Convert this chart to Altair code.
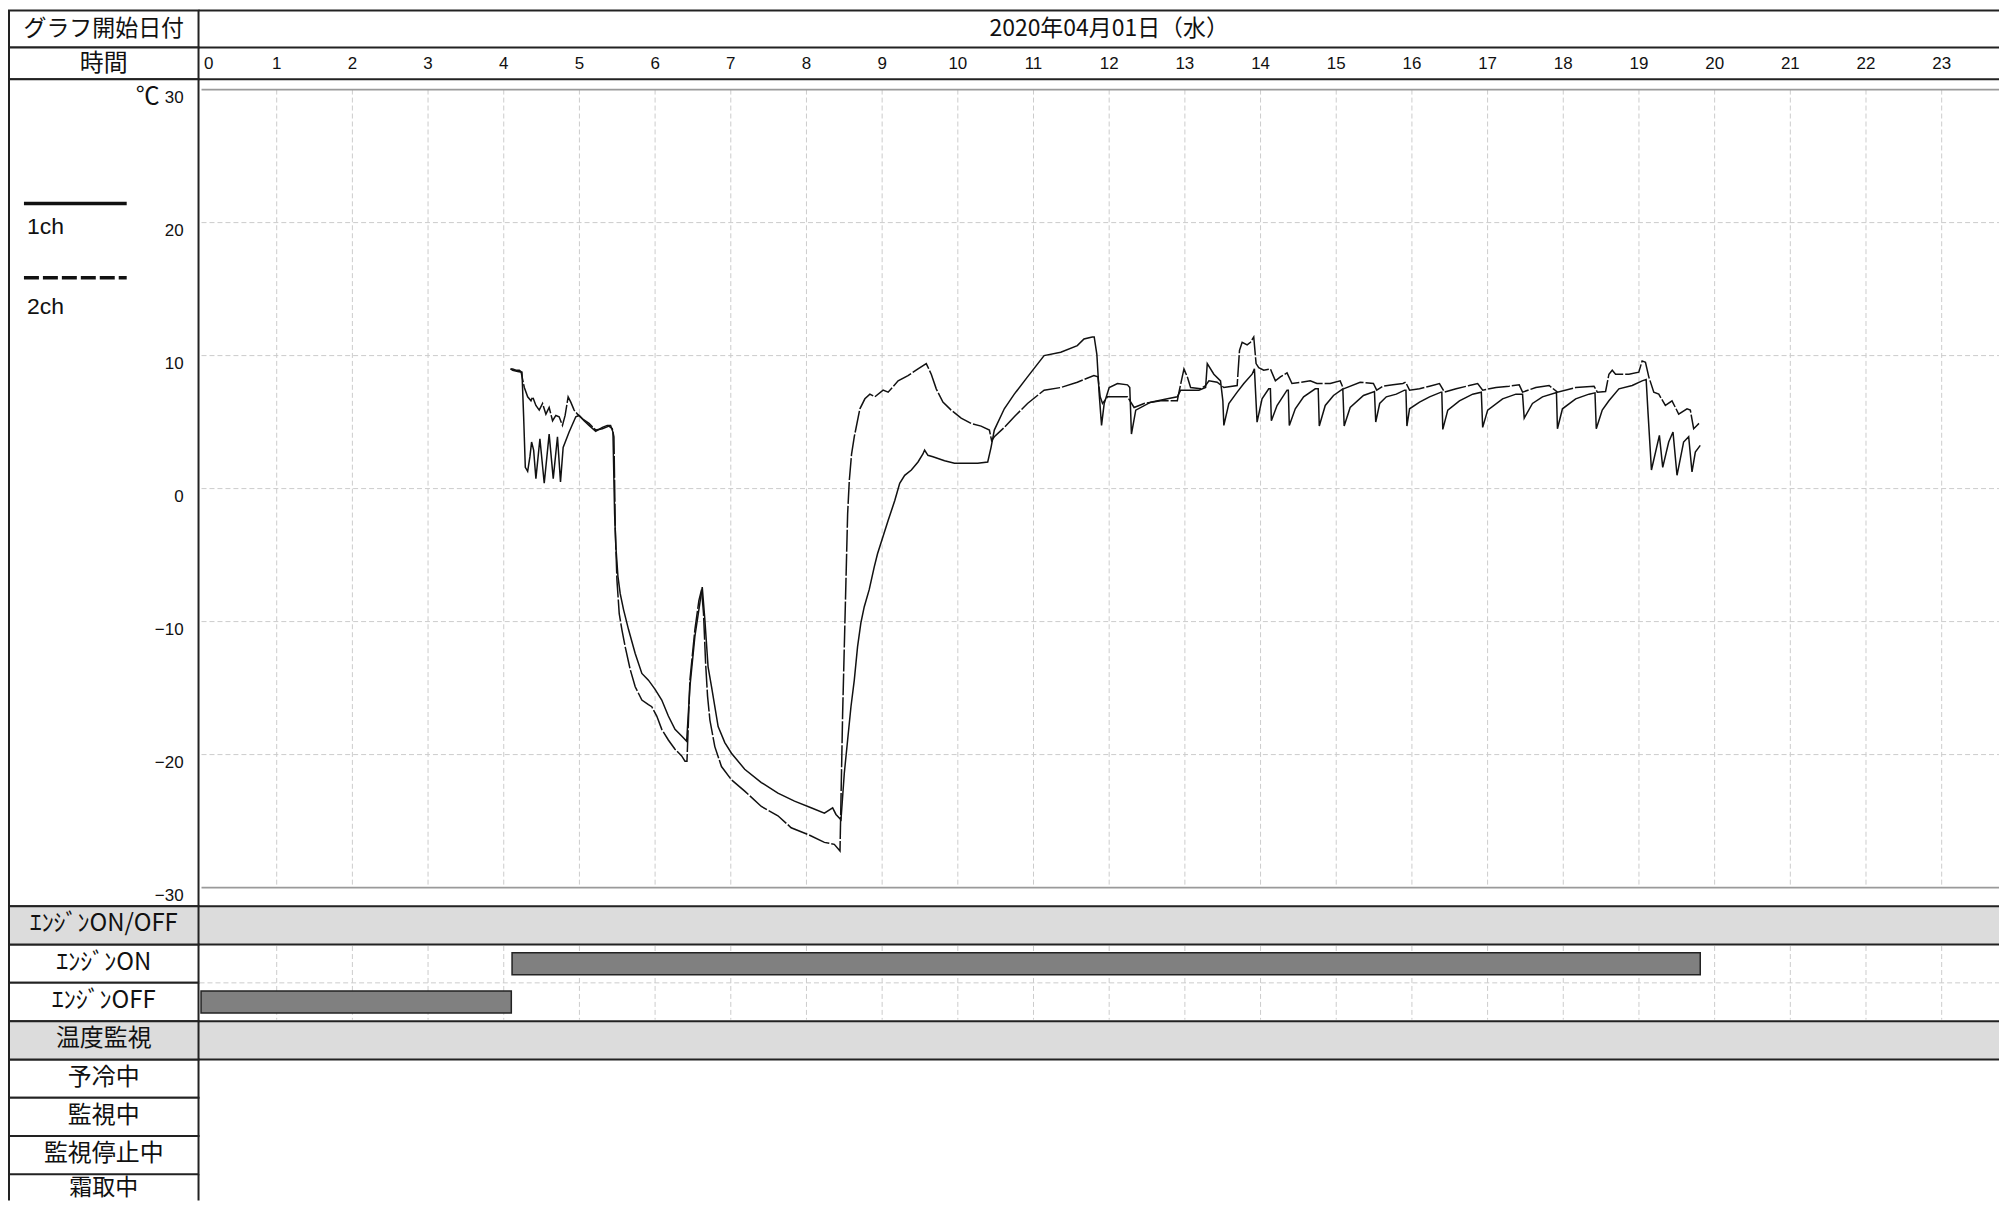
import altair as alt
import pandas as pd

# ---------------- data ----------------
date_label = "2020年04月01日（水）"
date_center_hour = 12
header_labels = ["グラフ開始日付", "時間"]
unit_label = "℃"
series_names = ["1ch", "2ch"]
hour_ticks = list(range(24))
temp_ticks = [30, 20, 10, 0, -10, -20, -30]
temp_tick_labels = ["30", "20", "10", "0", "−10", "−20", "−30"]
row_labels = ["ｴﾝｼﾞﾝON/OFF", "ｴﾝｼﾞﾝON", "ｴﾝｼﾞﾝOFF", "温度監視",
              "予冷中", "監視中", "監視停止中", "霜取中"]
group_rows = ["ｴﾝｼﾞﾝON/OFF", "温度監視"]
engine_rows = ["ｴﾝｼﾞﾝON", "ｴﾝｼﾞﾝOFF"]
engine_start = [4.11, 0.0]
engine_end = [19.81, 4.10]

ch1_hours = [4.09, 4.118, 4.184, 4.241, 4.263, 4.285, 4.316, 4.346, 4.368, 4.395, 4.425, 4.478,
             4.535, 4.60, 4.654, 4.71, 4.75, 4.785, 4.864, 4.952, 4.996, 5.061, 5.127, 5.215,
             5.303, 5.368, 5.412, 5.443, 5.465, 5.482, 5.509, 5.539, 5.583, 5.649, 5.737, 5.825,
             5.912, 6.0, 6.088, 6.175, 6.263, 6.351, 6.417, 6.46, 6.526, 6.592, 6.623, 6.658,
             6.70, 6.746, 6.833, 6.921, 7.009, 7.184, 7.404, 7.623, 7.842, 8.061, 8.237, 8.346,
             8.39, 8.456, 8.5, 8.544, 8.588, 8.632, 8.675, 8.719, 8.763, 8.829, 8.895, 8.939,
             9.079, 9.167, 9.232, 9.298, 9.386, 9.474, 9.539, 9.561, 9.605, 9.671, 9.825, 9.956,
             10.132, 10.263, 10.395, 10.439, 10.461, 10.482, 10.614, 10.746, 10.921, 11.14, 11.36,
             11.579, 11.667, 11.776, 11.802, 11.837, 11.868, 11.899, 11.934, 12.0, 12.11, 12.242,
             12.272, 12.294, 12.351, 12.549, 12.769, 12.9, 12.944, 13.076, 13.186, 13.274, 13.296,
             13.383, 13.471, 13.502, 13.515, 13.581, 13.691, 13.779, 13.888, 13.919, 13.954, 14.02,
             14.108, 14.13, 14.143, 14.218, 14.35, 14.367, 14.38, 14.459, 14.569, 14.723, 14.762,
             14.776, 14.855, 14.964, 15.087, 15.105, 15.184, 15.36, 15.505, 15.522, 15.574, 15.662,
             15.794, 15.903, 15.921, 15.934, 15.969, 16.101, 16.233, 16.386, 16.395, 16.408, 16.474,
             16.628, 16.803, 16.917, 16.935, 17.001, 17.198, 17.374, 17.462, 17.484, 17.593, 17.725,
             17.901, 17.91, 17.923, 17.989, 18.164, 18.34, 18.419, 18.436, 18.515, 18.603, 18.735,
             18.911, 19.042, 19.095, 19.121, 19.165, 19.27, 19.314, 19.393, 19.45, 19.503, 19.59,
             19.657, 19.701, 19.745, 19.81]
ch1_temps = [9.0, 8.9, 8.8, 8.75, 5.4, 1.6, 1.3, 2.4, 3.5, 2.9, 0.75, 3.75,
             0.4, 4.1, 0.75, 3.9, 0.5, 3.1, 4.25, 5.4, 5.5, 5.1, 4.75, 4.3,
             4.6, 4.75, 4.75, 4.25, -1.9, -4.4, -6.6, -7.9, -9.1, -10.6, -12.4, -13.9,
             -14.4, -15.1, -15.9, -17.1, -18.1, -18.6, -19.0, -14.9, -11.1, -8.6, -7.4, -9.9,
             -13.4, -14.9, -17.9, -19.1, -19.9, -21.1, -22.1, -22.9, -23.5, -24.0, -24.4, -24.0,
             -24.5, -24.9, -21.4, -18.9, -16.4, -14.4, -11.9, -10.1, -8.9, -7.6, -5.9, -4.9,
             -2.4, -0.9, 0.4, 1.0, 1.4, 2.0, 2.6, 2.9, 2.5, 2.4, 2.1, 1.9,
             1.9, 1.9, 2.0, 3.1, 3.75, 4.4, 6.0, 7.1, 8.4, 10.0, 10.25,
             10.75, 11.25, 11.4, 11.4, 10.1, 7.1, 4.75, 6.4, 7.6, 7.9, 7.8,
             7.6, 4.1, 5.9, 6.5, 6.75, 6.9, 7.4, 7.4, 7.4, 7.6, 9.4,
             8.6, 8.1, 6.6, 4.75, 6.4, 7.25, 7.9, 8.6, 9.0, 5.0, 6.75,
             7.5, 7.5, 5.1, 6.25, 7.4, 7.4, 4.75, 6.0, 6.9, 7.5, 7.5,
             4.7, 6.25, 7.0, 7.5, 4.7, 6.1, 7.0, 7.3, 5.0, 6.4, 6.9,
             7.1, 7.4, 7.4, 4.7, 6.0, 6.5, 6.9, 7.25, 7.25, 4.45, 5.9,
             6.6, 7.1, 7.25, 4.6, 5.9, 6.75, 7.1, 7.1, 5.3, 6.4, 6.9,
             7.2, 7.2, 4.5, 6.0, 6.75, 7.1, 7.2, 4.5, 5.9, 6.6, 7.5,
             7.75, 8.1, 8.2, 5.6, 1.4, 4.0, 1.6, 3.5, 4.25, 1.0, 3.5,
             3.9, 1.25, 2.75, 3.25]

ch2_hours = [4.09, 4.118, 4.162, 4.206, 4.228, 4.272, 4.316, 4.36, 4.382, 4.425, 4.469, 4.513,
             4.557, 4.60, 4.645, 4.689, 4.732, 4.776, 4.811, 4.851, 4.886, 4.93, 4.974, 5.04,
             5.127, 5.215, 5.303, 5.39, 5.434, 5.456, 5.474, 5.496, 5.526, 5.561, 5.605, 5.671,
             5.737, 5.825, 5.912, 5.956, 6.022, 6.088, 6.175, 6.263, 6.351, 6.395, 6.421, 6.46,
             6.526, 6.579, 6.614, 6.64, 6.667, 6.693, 6.724, 6.789, 6.877, 7.009, 7.184, 7.404,
             7.623, 7.798, 8.018, 8.237, 8.368, 8.443, 8.478, 8.5, 8.522, 8.544, 8.566, 8.596,
             8.632, 8.706, 8.772, 8.838, 8.904, 9.013, 9.079, 9.211, 9.342, 9.474, 9.583, 9.649,
             9.715, 9.803, 9.912, 10.044, 10.175, 10.307, 10.417, 10.447, 10.482, 10.614, 10.746,
             10.921, 11.14, 11.36, 11.579, 11.798, 11.851, 11.881, 11.912, 11.978, 12.11, 12.242,
             12.329, 12.461, 12.681, 12.9, 12.922, 12.988, 13.032, 13.076, 13.208, 13.274, 13.318,
             13.427, 13.515, 13.691, 13.722, 13.757, 13.823, 13.867, 13.91, 13.941, 13.976, 14.042,
             14.13, 14.196, 14.262, 14.35, 14.415, 14.657, 14.745, 14.92, 15.052, 15.096, 15.316,
             15.491, 15.535, 15.618, 15.75, 15.881, 15.917, 15.969, 16.101, 16.233, 16.364, 16.43,
             16.584, 16.759, 16.869, 16.935, 17.111, 17.286, 17.418, 17.462, 17.637, 17.813, 17.923,
             18.164, 18.406, 18.45, 18.559, 18.603, 18.647, 18.691, 18.867, 18.998, 19.042, 19.086,
             19.13, 19.196, 19.262, 19.349, 19.437, 19.525, 19.635, 19.679, 19.723, 19.766, 19.81]
ch2_temps = [9.0, 9.0, 8.9, 8.9, 8.8, 7.6, 6.9, 6.6, 6.9, 6.25, 5.9, 6.4,
             5.6, 6.1, 5.1, 5.5, 5.4, 4.75, 5.5, 6.9, 6.5, 5.9, 5.6, 5.25,
             4.9, 4.4, 4.5, 4.7, 4.5, 3.9, -3.1, -6.9, -9.4, -10.6, -11.9, -13.6,
             -14.9, -15.9, -16.25, -16.4, -17.1, -18.1, -18.9, -19.6, -20.1, -20.5, -20.5, -14.4,
             -10.6, -8.4, -7.6, -9.4, -13.1, -15.6, -17.4, -19.4, -20.9, -21.9, -22.75, -23.9,
             -24.6, -25.5, -26.0, -26.6, -26.75, -27.25, -16.9, -11.9, -6.9, -1.9, 0.6, 2.6,
             3.9, 6.0, 6.75, 7.1, 6.9, 7.4, 7.25, 8.1, 8.5, 9.0, 9.4, 8.6,
             7.5, 6.5, 5.9, 5.3, 4.9, 4.7, 4.4, 3.6, 3.9, 4.6, 5.4,
             6.4, 7.4, 7.6, 8.0, 8.5, 8.4, 6.9, 6.4, 6.9, 6.9, 6.9,
             6.1, 6.4, 6.6, 6.6, 7.25, 9.0, 8.4, 7.6, 7.5, 7.75, 8.1,
             8.0, 7.6, 7.75, 10.4, 11.0, 10.8, 11.0, 11.4, 9.4, 9.1, 8.9,
             9.0, 8.1, 8.4, 8.7, 7.9, 8.1, 7.9, 7.9, 8.1, 7.5, 8.0,
             7.9, 7.4, 7.7, 7.8, 7.9, 8.0, 7.4, 7.5, 7.7, 7.9, 7.25,
             7.5, 7.75, 7.9, 7.4, 7.6, 7.7, 7.8, 7.25, 7.6, 7.75, 7.25,
             7.6, 7.7, 7.25, 7.3, 8.6, 8.9, 8.6, 8.6, 8.75, 9.6, 9.5,
             8.4, 7.25, 7.1, 6.25, 6.6, 5.6, 6.0, 5.9, 4.5, 4.75, 5.0]

# ---------------- layout / style ----------------
W = 1996
H_HEAD, H_PLOT, H_ROWS = 70, 829, 295
ROW_H = 38.4
LEFT = 191          # right edge of the label column
LINE = "#222222"
GRID = "#cccccc"
GRAY = "#dcdcdc"
JP = "Noto Sans CJK JP"
NUM = "Liberation Sans"
NARROW = "Liberation Sans Narrow, Liberation Sans, sans-serif"

XS = alt.Scale(domain=[0, 24], range=[193.5, 2014.4], nice=False, zero=False)
YS = alt.Scale(domain=[-30, 30], range=[810.3, 10.3], nice=False, zero=False)
RS = alt.Scale(type="band", domain=row_labels, range=[0, ROW_H * len(row_labels)],
               paddingInner=0, paddingOuter=0)

one = pd.DataFrame({"k": [0]})
df_rows = pd.DataFrame({"row": row_labels})
df_group = df_rows[df_rows["row"].isin(group_rows)]
df_plain = df_rows[~df_rows["row"].isin(group_rows) & (df_rows["row"] != row_labels[-1])]
df_rows_main = df_rows[df_rows["row"] != row_labels[-1]]
df_rows_last = df_rows[df_rows["row"] == row_labels[-1]]
df_hours = pd.DataFrame({"h": hour_ticks})
df_vgrid = df_hours[df_hours["h"] > 0]
df_temps = pd.DataFrame({"t": temp_ticks, "lab": temp_tick_labels})
df_hgrid = df_temps[(df_temps["t"] < 30) & (df_temps["t"] > -30)]
df_frame = df_temps[(df_temps["t"] == 30) | (df_temps["t"] == -30)]
df1 = pd.DataFrame({"h": ch1_hours, "t": ch1_temps})
df2 = pd.DataFrame({"h": ch2_hours, "t": ch2_temps})
df_eng = pd.DataFrame({"row": engine_rows, "s": engine_start, "e": engine_end})
df_date = pd.DataFrame({"h": [date_center_hour], "lab": [date_label]})


def cell(x1, x2, y1, y2, fill="white"):
    return alt.Chart(one).mark_rect(fill=fill, stroke=LINE, strokeWidth=2).encode(
        x=alt.value(x1), x2=alt.value(x2), y=alt.value(y1), y2=alt.value(y2))


def hline(y, x1=LEFT, x2=W):
    return alt.Chart(one).mark_rule(color=LINE, strokeWidth=2).encode(
        y=alt.value(y), x=alt.value(x1), x2=alt.value(x2))


def edge(x, y1, y2):
    return alt.Chart(one).mark_rule(color=LINE, strokeWidth=2).encode(
        x=alt.value(x), y=alt.value(y1), y2=alt.value(y2))


def label(text, x, y, size, font=JP, align="center"):
    return alt.Chart(one).mark_text(text=text, font=font, fontSize=size, align=align,
                                    baseline="middle", color="#111").encode(
        x=alt.value(x), y=alt.value(y))


def vrule(y1, y2):
    return alt.Chart(df_vgrid).mark_rule(color=GRID, strokeDash=[5, 3], strokeWidth=1).encode(
        x=alt.X("h:Q", scale=XS, axis=None), y=alt.value(y1), y2=alt.value(y2))


# ---- header block: date row and hour row ----
head_layers = [
    cell(1, LEFT, 1, 38), cell(1, LEFT, 38, 70),
    hline(1), hline(38),
    label(header_labels[0], 96, 20, 23),
    label(header_labels[1], 96, 55, 24),
    alt.Chart(df_date).mark_text(font=JP, fontSize=23, baseline="middle", color="#111").encode(
        x=alt.X("h:Q", scale=XS, axis=None), y=alt.value(20), text="lab:N"),
    alt.Chart(df_hours[df_hours["h"] > 0]).mark_text(
        font=NARROW, fontSize=17, baseline="middle", color="#111").encode(
        x=alt.X("h:Q", scale=XS, axis=None), y=alt.value(55), text="h:Q"),
    alt.Chart(df_hours[df_hours["h"] == 0]).mark_text(
        font=NARROW, fontSize=17, baseline="middle", align="left", dx=3, color="#111").encode(
        x=alt.X("h:Q", scale=XS, axis=None), y=alt.value(55), text="h:Q"),
]
head = alt.layer(*head_layers).properties(width=W, height=H_HEAD)

# ---- temperature plot block ----
plot_layers = [
    cell(1, LEFT, 0, H_PLOT), hline(0),
    vrule(10.3, 810.3),
    alt.Chart(df_hgrid).mark_rule(color=GRID, strokeDash=[5, 3], strokeWidth=1).encode(
        y=alt.Y("t:Q", scale=YS, axis=None), x=alt.value(194), x2=alt.value(W)),
    alt.Chart(df_frame).mark_rule(color="#9a9a9a", strokeWidth=1.6).encode(
        y=alt.Y("t:Q", scale=YS, axis=None), x=alt.value(194), x2=alt.value(W)),
    alt.Chart(df1).mark_line(color="#111", strokeWidth=1.5).encode(
        x=alt.X("h:Q", scale=XS, axis=None), y=alt.Y("t:Q", scale=YS, axis=None)),
    alt.Chart(df2).mark_line(color="#111", strokeWidth=1.5, strokeDash=[22, 2]).encode(
        x=alt.X("h:Q", scale=XS, axis=None), y=alt.Y("t:Q", scale=YS, axis=None)),
    alt.Chart(df_temps).mark_text(
        font=NUM, fontSize=17, baseline="middle", align="right", dy=8, color="#111").encode(
        y=alt.Y("t:Q", scale=YS, axis=None), x=alt.value(176), text="lab:N"),
    label(unit_label, 152, 18, 24, align="right"),
    alt.Chart(one).mark_rule(color="#111", strokeWidth=3.5).encode(
        x=alt.value(16), x2=alt.value(119), y=alt.value(124.5)),
    alt.Chart(one).mark_rule(color="#111", strokeWidth=3.5, strokeDash=[15, 4]).encode(
        x=alt.value(16), x2=alt.value(119), y=alt.value(199)),
    label(series_names[0], 19, 148.5, 23, font=NUM, align="left"),
    label(series_names[1], 19, 228.5, 23, font=NUM, align="left"),
]
plot = alt.layer(*plot_layers).properties(width=W, height=H_PLOT)

# ---- status rows block ----
rows_layers = [
    alt.Chart(df_group).mark_rect(fill=GRAY).encode(
        y=alt.Y("row:N", scale=RS, axis=None), x=alt.value(1), x2=alt.value(W)),
    alt.Chart(df_plain).mark_rect(fill="white", stroke=LINE, strokeWidth=2).encode(
        y=alt.Y("row:N", scale=RS, axis=None), x=alt.value(1), x2=alt.value(LEFT)),
    alt.Chart(df_group).mark_rect(fill=GRAY, stroke=LINE, strokeWidth=2).encode(
        y=alt.Y("row:N", scale=RS, axis=None), x=alt.value(1), x2=alt.value(LEFT)),
    edge(1, 7 * ROW_H, H_ROWS), edge(LEFT, 7 * ROW_H, H_ROWS),
    hline(0), hline(ROW_H), hline(3 * ROW_H), hline(4 * ROW_H),
    vrule(ROW_H + 1.5, 3 * ROW_H - 1.5),
    alt.Chart(one).mark_rule(color=GRID, strokeDash=[5, 3], strokeWidth=1).encode(
        y=alt.value(2 * ROW_H), x=alt.value(LEFT + 1), x2=alt.value(W)),
    alt.Chart(df_eng).mark_bar(size=22, color="#808080", stroke="#222", strokeWidth=1.5).encode(
        x=alt.X("s:Q", scale=XS, axis=None), x2="e:Q",
        y=alt.Y("row:N", scale=RS, axis=None)),
    alt.Chart(df_rows_main).mark_text(font=JP, fontSize=24, baseline="middle", dy=-1,
                                      color="#111").encode(
        y=alt.Y("row:N", scale=RS, axis=None), x=alt.value(96), text="row:N"),
    alt.Chart(df_rows_last).mark_text(font=JP, fontSize=23, baseline="middle", dy=-6,
                                      color="#111").encode(
        y=alt.Y("row:N", scale=RS, axis=None), x=alt.value(96), text="row:N"),
]
rows = alt.layer(*rows_layers).properties(width=W, height=H_ROWS)

chart = (alt.vconcat(head, plot, rows, spacing=0, bounds="flush")
         .properties(padding=0)
         .configure_view(stroke=None))

chart.save("out.html", embed_options={"renderer": "svg", "actions": False})
